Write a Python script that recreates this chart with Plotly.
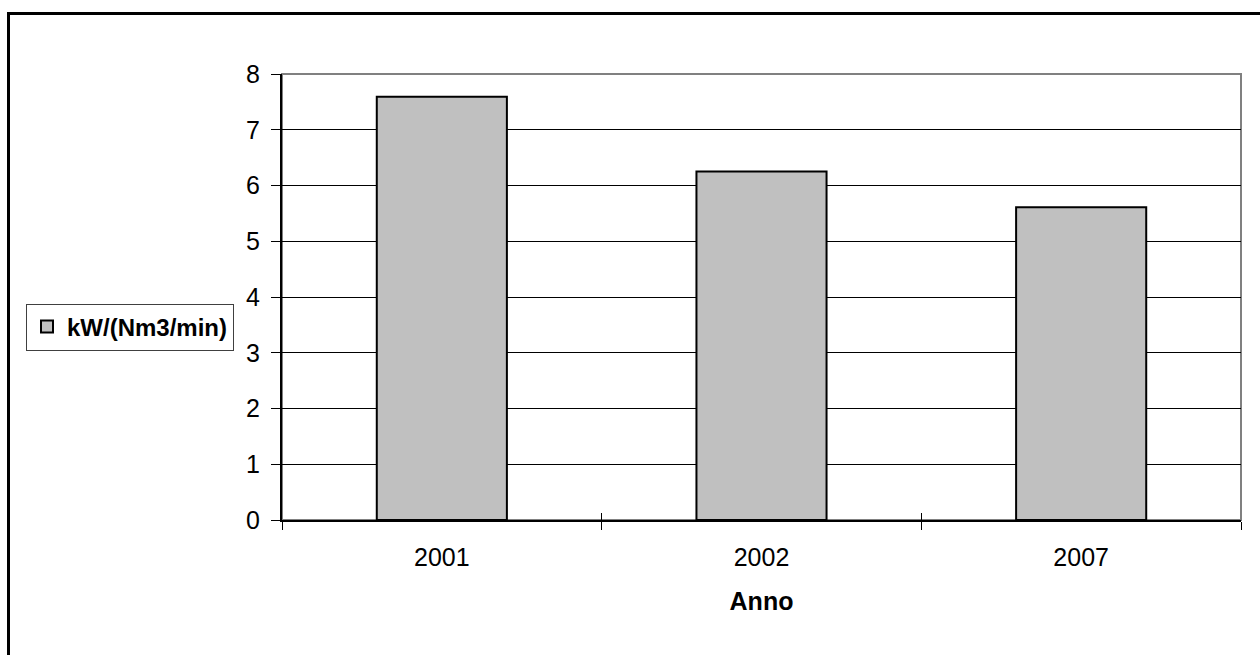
import plotly.graph_objects as go

# Data
anni = ["2001", "2002", "2007"]
consumo_specifico = [7.59, 6.25, 5.61]
serie_nome = "kW/(Nm3/min)"
y_ticks = [0, 1, 2, 3, 4, 5, 6, 7, 8]

W, H = 1260, 655
ML, MR, MT, MB = 282, 19, 74, 135
plot_w = W - ML - MR
plot_h = H - MT - MB

FONT = "Liberation Sans, Arial, sans-serif"

fig = go.Figure()
fig.add_trace(go.Bar(
    x=anni, y=consumo_specifico, name=serie_nome,
    marker=dict(color="#C0C0C0", line=dict(color="black", width=2)),
    showlegend=True,
))
# Copy on an overlay axis, used only to draw the upward half of the crossing ticks
fig.add_trace(go.Bar(
    x=anni, y=consumo_specifico, xaxis="x2", opacity=0,
    showlegend=False, hoverinfo="skip",
))

# outer chart frame, in paper coordinates derived from the margins
def px_to_paper_x(px):
    return (px - ML) / plot_w

def px_to_paper_y(py):
    return (H - MB - py) / plot_h

fig.add_shape(type="rect", xref="paper", yref="paper",
              x0=px_to_paper_x(8.5), y0=px_to_paper_y(13.5),
              x1=px_to_paper_x(W + 20), y1=px_to_paper_y(H + 20),
              line=dict(color="black", width=3), layer="below")
# grey plot-area border
fig.add_shape(type="rect", xref="x domain", yref="y domain",
              x0=0, y0=0, x1=1, y1=1,
              line=dict(color="#808080", width=2), layer="below")

fig.update_layout(
    width=W, height=H,
    margin=dict(l=ML, r=MR, t=MT, b=MB),
    paper_bgcolor="white", plot_bgcolor="white",
    font=dict(family=FONT, size=25, color="black"),
    bargap=0.593,
    showlegend=True,
    legend=dict(
        x=px_to_paper_x(26), xanchor="left",
        y=px_to_paper_y(327), yanchor="middle",
        bordercolor="#404040", borderwidth=1,
        bgcolor="white",
        font=dict(family=FONT, size=24, color="black", weight="bold"),
        itemwidth=30,
    ),
    xaxis=dict(
        type="category",
        showline=True, linecolor="black", linewidth=2,
        ticks="outside", ticklen=8, tickcolor="black", tickwidth=1,
        tickson="boundaries",
        showgrid=False,
        ticklabelstandoff=14,
        title=dict(text="<b>Anno</b>", font=dict(size=25), standoff=22),
    ),
    xaxis2=dict(
        type="category", overlaying="x", matches="x",
        ticks="inside", ticklen=7, tickcolor="black", tickwidth=1,
        tickson="boundaries", showticklabels=False,
        showgrid=False, showline=False, side="bottom",
    ),
    yaxis=dict(
        range=[0, 8], tickvals=y_ticks,
        showline=True, linecolor="black", linewidth=2,
        ticks="outside", ticklen=9, tickcolor="black", tickwidth=1,
        showgrid=True, gridcolor="black", gridwidth=1,
        zeroline=False,
        ticklabelstandoff=6,
    ),
)

fig.write_html("out.html")
